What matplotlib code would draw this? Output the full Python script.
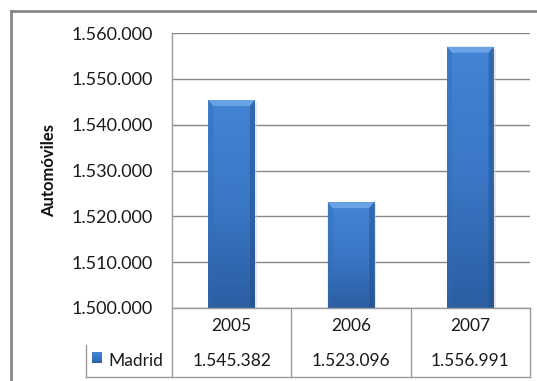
import numpy as np
import matplotlib
matplotlib.use("Agg")
import matplotlib.pyplot as plt
from matplotlib.lines import Line2D
from matplotlib.patches import Polygon, Rectangle
from matplotlib.ticker import FuncFormatter, MultipleLocator
from matplotlib.colors import LinearSegmentedColormap

years = ["2005", "2006", "2007"]
madrid = [1545382, 1523096, 1556991]
series_name = "Madrid"
y_label = "Automóviles"
y_min, y_max, y_step = 1500000, 1560000, 10000

W, H = 537, 381
DPI = 100
plt.rcParams["font.family"] = ["Lato", "DejaVu Sans"]

fig = plt.figure(figsize=(W / DPI, H / DPI), dpi=DPI)
fig.patch.set_facecolor("white")


def fx(px):
    return px / W


def fy(py):
    return 1 - py / H


# plot area in pixel coordinates
L, R, T, B = 172, 530, 33, 308
ax = fig.add_axes([fx(L), fy(B), fx(R - L), (B - T) / H])
ax.set_xlim(-0.5, len(years) - 0.5)
ax.set_ylim(y_min, y_max)
for s in ax.spines.values():
    s.set_visible(False)
ax.yaxis.set_major_locator(MultipleLocator(y_step))
ax.yaxis.set_major_formatter(FuncFormatter(lambda v, p: f"{int(v):,}".replace(",", ".")))
ax.tick_params(axis="y", length=0, pad=13.5, labelsize=13, labelcolor="#1a1a1a")
ax.set_xticks([])
ax.grid(axis="y", color="#878787", lw=1.0)
ax.set_axisbelow(True)
ax.set_ylabel(y_label, fontsize=12, fontweight="bold", labelpad=11, color="#111111")

grad = LinearSegmentedColormap.from_list("bar", ["#2c5ea2", "#3a77c6", "#4384d6"])
bars = ax.bar(range(len(years)), madrid, width=0.39, bottom=0,
              color="#3a78c8", edgecolor="none", zorder=2)

# pixel-to-data scale for bevel sizes
dx = (ax.get_xlim()[1] - ax.get_xlim()[0]) / (R - L)
dy = (y_max - y_min) / (B - T)
bev_x, bev_y = 5 * dx, 6 * dy
for b in bars:
    x0 = b.get_x()
    x1 = x0 + b.get_width()
    top = b.get_height()
    bot = y_min
    # soft shadow to the right
    ax.add_patch(Rectangle((x1, bot), 2 * dx, top - bot - 2 * dy, color="#d0d0d0",
                           alpha=0.5, zorder=1.5, lw=0))
    img = ax.imshow(np.linspace(0, 1, 100).reshape(-1, 1), cmap=grad, aspect="auto",
                    extent=(x0, x1, bot, top), origin="lower", zorder=2.1)
    img.set_clip_path(b)
    # bevel faces
    ax.add_patch(Polygon([(x0, top), (x1, top), (x1 - bev_x, top - bev_y), (x0 + bev_x, top - bev_y)],
                         closed=True, color="#6aa2e6", lw=0, zorder=2.2))
    ax.add_patch(Polygon([(x0, top), (x0 + bev_x, top - bev_y), (x0 + bev_x, bot), (x0, bot)],
                         closed=True, color="#3469b0", alpha=0.35, lw=0, zorder=2.2))
    ax.add_patch(Polygon([(x1, top), (x1 - bev_x, top - bev_y), (x1 - bev_x, bot), (x1, bot)],
                         closed=True, color="#234e8a", alpha=0.5, lw=0, zorder=2.2))

# data table under the plot
grid_c = "#9a9a9a"
lines = [
    ((L, L), (T, 377)),
    ((R, R), (B, 377)),
    ((L, R), (B, B)),
    ((86, R), (377, 377)),
    ((86, 86), (345, 377)),
]
col_w = (R - L) / len(years)
for i in range(1, len(years)):
    xc = L + i * col_w
    lines.append(((xc, xc), (B, 377)))
for xs, ys in lines:
    fig.add_artist(Line2D([fx(x) for x in xs], [fy(y) for y in ys], color=grid_c, lw=1.0))

for i, (yr, v) in enumerate(zip(years, madrid)):
    xc = L + (i + 0.5) * col_w
    fig.text(fx(xc), fy(326), yr, ha="center", va="center", fontsize=12.5, color="#1a1a1a")
    fig.text(fx(xc), fy(361), f"{v:,}".replace(",", "."), ha="center", va="center",
             fontsize=12.5, color="#1a1a1a")

# legend key in the table
key = fig.add_axes([fx(92), fy(363), fx(10), 11 / H])
key.imshow(np.linspace(0, 1, 50).reshape(-1, 1), cmap=grad, aspect="auto", origin="lower")
key.set_axis_off()
fig.text(fx(108), fy(361), series_name, ha="left", va="center", fontsize=12.5, color="#1a1a1a")

# chart border
fig.add_artist(Line2D([fx(11), fx(537)], [fy(11), fy(11)], color="#878787", lw=2))
fig.add_artist(Line2D([fx(11), fx(11)], [fy(11), fy(381)], color="#878787", lw=2))

fig.savefig("out.png", dpi=DPI)
